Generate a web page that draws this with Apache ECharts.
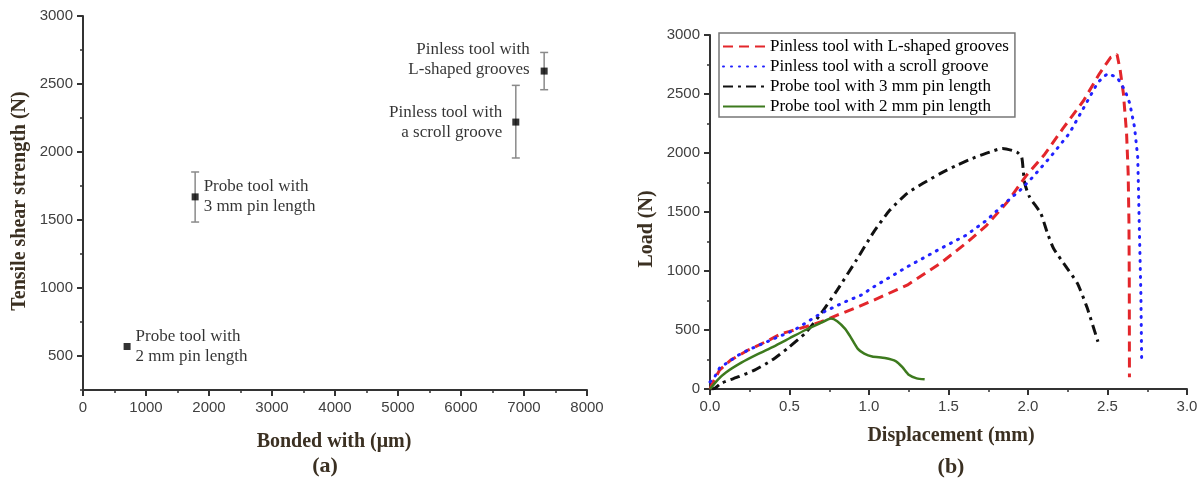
<!DOCTYPE html>
<html>
<head>
<meta charset="utf-8">
<script src="https://cdn.jsdelivr.net/npm/echarts@6/dist/echarts.min.js"></script>
<style>
html,body{margin:0;padding:0;background:#fff;}
#c{width:1203px;height:481px;}
</style>
</head>
<body>
<div id="c"></div>
<script>
// ---------- Panel (a) data ----------
const toolNames = ['Probe tool with\n2 mm pin length', 'Probe tool with\n3 mm pin length', 'Pinless tool with\na scroll groove', 'Pinless tool with\nL-shaped grooves'];
const bondedWidth = [700, 1780, 6870, 7320];
const shearStrength = [570, 1670, 2220, 2595];
const errLow = [570, 1485, 1956, 2458];
const errHigh = [570, 1853, 2490, 2732];
const aYTicks = [500, 1000, 1500, 2000, 2500, 3000];

// ---------- Panel (b) data: [displacement mm, load N] ----------
const seriesNames = ['Pinless tool with L-shaped grooves', 'Pinless tool with a scroll groove', 'Probe tool with 3 mm pin length', 'Probe tool with 2 mm pin length'];
const lShaped = [[0,0],[0.02,60],[0.06,160],[0.13,245],[0.24,330],[0.35,400],[0.45,470],[0.5,488],[0.6,527],[0.7,570],[0.8,626],[0.91,685],[1.03,753],[1.24,880],[1.45,1066],[1.61,1235],[1.74,1387],[1.87,1585],[1.99,1810],[2.1,1980],[2.22,2208],[2.35,2445],[2.45,2673],[2.52,2811],[2.56,2835],[2.58,2700],[2.6,2504],[2.62,2166],[2.63,1827],[2.635,1404],[2.637,900],[2.638,100]];
const scrollGroove = [[0,60],[0.03,104],[0.06,178],[0.18,288],[0.24,330],[0.41,431],[0.53,499],[0.6,558],[0.7,643],[0.85,739],[0.95,795],[1.03,866],[1.24,1035],[1.45,1190],[1.61,1303],[1.74,1430],[1.84,1556],[1.95,1684],[2.03,1796],[2.14,1965],[2.26,2166],[2.37,2431],[2.44,2600],[2.5,2673],[2.56,2642],[2.61,2530],[2.64,2420],[2.67,2219],[2.69,1965],[2.695,1684],[2.7,1373],[2.71,800],[2.715,215]];
const probe3mm = [[0,0],[0.03,5],[0.07,48],[0.18,104],[0.28,160],[0.39,245],[0.49,347],[0.6,474],[0.7,643],[0.8,838],[0.92,1091],[1.03,1331],[1.13,1514],[1.24,1658],[1.34,1743],[1.45,1827],[1.55,1895],[1.65,1954],[1.76,2008],[1.84,2039],[1.93,2008],[1.96,1965],[1.97,1853],[1.98,1740],[2.01,1627],[2.08,1489],[2.12,1330],[2.16,1193],[2.24,1035],[2.31,897],[2.37,696],[2.44,400]];
const probe2mm = [[0,0],[0.05,80],[0.1,140],[0.2,225],[0.3,295],[0.4,360],[0.5,430],[0.6,500],[0.7,562],[0.76,598],[0.8,575],[0.85,510],[0.88,450],[0.93,340],[0.97,300],[1.02,275],[1.1,262],[1.17,235],[1.21,185],[1.25,120],[1.3,90],[1.35,82]];

const serif = 'Liberation Serif';
const sans = 'Liberation Sans';
const axisColor = '#333';
const labelColor = '#404040';
const titleColor = '#3b3022';

const chart = echarts.init(document.getElementById('c'), null, {renderer: 'canvas'});

const labelCfg = [
  {position: 'right', distance: 5, offset: [0, 0]},
  {position: 'right', distance: 5, offset: [0, 0]},
  {position: 'left', distance: 10, offset: [0, 0]},
  {position: 'left', distance: 11, offset: [0, -12]}
];

const scatterData = bondedWidth.map((x, i) => ({
  value: [x, shearStrength[i]],
  label: {show: true, formatter: toolNames[i], position: labelCfg[i].position, distance: labelCfg[i].distance, offset: labelCfg[i].offset,
    fontFamily: serif, fontSize: 17, lineHeight: 20, color: '#000', align: labelCfg[i].position === 'left' ? 'right' : 'left'}
}));
const errData = bondedWidth.map((x, i) => [x, errLow[i], errHigh[i]]);

function mkAxisLine() { return {show: true, lineStyle: {color: axisColor, width: 2}}; }
const plain = v => String(v);

const option = {
  backgroundColor: '#fff',
  animation: false,
  grid: [
    {left: 83, right: 616, top: 16, bottom: 91},
    {left: 710, right: 16, top: 35, bottom: 92}
  ],
  xAxis: [
    {gridIndex: 0, type: 'value', min: 0, max: 8000, interval: 1000,
     axisLine: mkAxisLine(), splitLine: {show: false},
     axisTick: {show: true, inside: false, length: 6, lineStyle: {color: axisColor, width: 2}},
     minorTick: {show: true, splitNumber: 2, length: 3, lineStyle: {color: axisColor, width: 1.5}},
     axisLabel: {fontFamily: sans, fontSize: 15, color: labelColor, margin: 10, formatter: plain}},
    {gridIndex: 1, type: 'value', min: 0, max: 3, interval: 0.5,
     axisLine: mkAxisLine(), splitLine: {show: false},
     axisTick: {show: true, inside: false, length: 6, lineStyle: {color: axisColor, width: 2}},
     minorTick: {show: true, splitNumber: 2, length: 3, lineStyle: {color: axisColor, width: 1.5}},
     axisLabel: {fontFamily: sans, fontSize: 15, color: labelColor, margin: 10, formatter: v => v.toFixed(1)}}
  ],
  yAxis: [
    {gridIndex: 0, type: 'value', position: 'left', min: 250, max: 3000, interval: 250,
     axisLine: mkAxisLine(), splitLine: {show: false},
     axisTick: {show: true, inside: false, length: 3, lineStyle: {color: axisColor, width: 1.5}},
     axisLabel: {show: false}},
    {gridIndex: 0, type: 'value', position: 'left', min: 250, max: 3000, interval: 250,
     axisLine: {show: false}, splitLine: {show: false},
     axisTick: {show: true, inside: false, length: 6, customValues: aYTicks, lineStyle: {color: axisColor, width: 2}},
     axisLabel: {show: true, customValues: aYTicks, fontFamily: sans, fontSize: 15, color: labelColor, margin: 10,
       formatter: v => (v % 500 === 0 ? String(v) : '')}},
    {gridIndex: 1, type: 'value', min: 0, max: 3000, interval: 500,
     axisLine: mkAxisLine(), splitLine: {show: false},
     axisTick: {show: true, inside: false, length: 6, lineStyle: {color: axisColor, width: 2}},
     minorTick: {show: true, splitNumber: 2, length: 3, lineStyle: {color: axisColor, width: 1.5}},
     axisLabel: {fontFamily: sans, fontSize: 15, color: labelColor, margin: 10, formatter: plain}}
  ],
  legend: {
    left: 719, top: 33, orient: 'vertical',
    data: seriesNames,
    borderColor: '#777', borderWidth: 1.5, borderRadius: 0,
    padding: [5, 6, 2, 3], itemGap: 3, itemWidth: 42, itemHeight: 14,
    itemStyle: {opacity: 0},
    textStyle: {fontFamily: serif, fontSize: 17, color: '#000', lineHeight: 17}
  },
  series: [
    {type: 'custom', xAxisIndex: 0, yAxisIndex: 0, z: 2,
     renderItem: function (params, api) {
       const x = api.value(0);
       const lo = api.coord([x, api.value(1)]);
       const hi = api.coord([x, api.value(2)]);
       const w = 4;
       const st = {stroke: '#8a8a8a', lineWidth: 1.5};
       return {type: 'group', children: [
         {type: 'line', shape: {x1: lo[0], y1: lo[1], x2: hi[0], y2: hi[1]}, style: st},
         {type: 'line', shape: {x1: lo[0] - w, y1: lo[1], x2: lo[0] + w, y2: lo[1]}, style: st},
         {type: 'line', shape: {x1: hi[0] - w, y1: hi[1], x2: hi[0] + w, y2: hi[1]}, style: st}
       ]};
     },
     encode: {x: 0, y: [1, 2]},
     data: errData.filter(d => d[2] > d[1])},
    {type: 'scatter', xAxisIndex: 0, yAxisIndex: 0, z: 3, symbol: 'rect', symbolSize: 7,
     itemStyle: {color: '#000'}, data: scatterData},
    {name: seriesNames[0], type: 'line', xAxisIndex: 1, yAxisIndex: 2, data: lShaped, symbol: 'none', z: 4,
     lineStyle: {color: '#e3262b', width: 3, type: [10, 6]}, itemStyle: {color: '#e3262b'}},
    {name: seriesNames[1], type: 'line', xAxisIndex: 1, yAxisIndex: 2, data: scrollGroove, symbol: 'none', z: 5,
     lineStyle: {color: '#2222ff', width: 3, type: [1, 7], cap: 'round'}, itemStyle: {color: '#2222ff'}},
    {name: seriesNames[2], type: 'line', xAxisIndex: 1, yAxisIndex: 2, data: probe3mm, symbol: 'none', z: 3, smooth: 0.2,
     lineStyle: {color: '#111', width: 3, type: [10, 5, 3, 5]}, itemStyle: {color: '#111'}},
    {name: seriesNames[3], type: 'line', xAxisIndex: 1, yAxisIndex: 2, data: probe2mm, symbol: 'none', z: 6, smooth: 0.2,
     lineStyle: {color: '#3d7a1e', width: 2.5}, itemStyle: {color: '#3d7a1e'}}
  ],
  graphic: [
    {type: 'text', x: 20, y: 201, rotation: Math.PI / 2, style: {text: 'Tensile shear strength (N)', font: 'bold 20px "Liberation Serif"', fill: titleColor, textAlign: 'center', textVerticalAlign: 'middle'}},
    {type: 'text', x: 334, y: 442, style: {text: 'Bonded with (μm)', font: 'bold 20px "Liberation Serif"', fill: titleColor, textAlign: 'center', textVerticalAlign: 'middle'}},
    {type: 'text', x: 325, y: 466, style: {text: '(a)', font: 'bold 22px "Liberation Serif"', fill: titleColor, textAlign: 'center', textVerticalAlign: 'middle'}},
    {type: 'text', x: 647, y: 229, rotation: Math.PI / 2, style: {text: 'Load (N)', font: 'bold 20px "Liberation Serif"', fill: titleColor, textAlign: 'center', textVerticalAlign: 'middle'}},
    {type: 'text', x: 951, y: 436, style: {text: 'Displacement (mm)', font: 'bold 20px "Liberation Serif"', fill: titleColor, textAlign: 'center', textVerticalAlign: 'middle'}},
    {type: 'text', x: 951, y: 467, style: {text: '(b)', font: 'bold 22px "Liberation Serif"', fill: titleColor, textAlign: 'center', textVerticalAlign: 'middle'}}
  ]
};
chart.setOption(option);
</script>
</body>
</html>
